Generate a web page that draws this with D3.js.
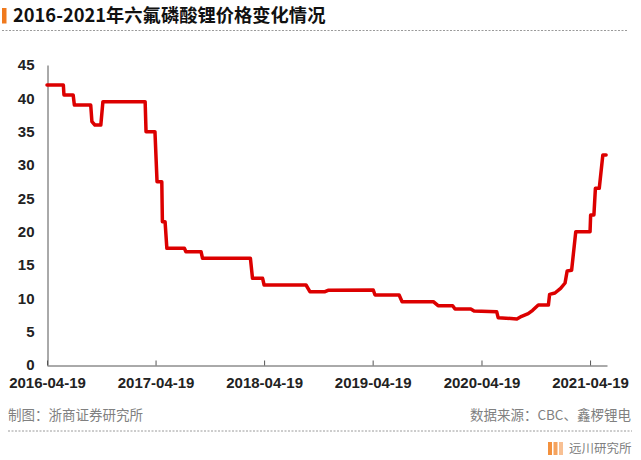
<!DOCTYPE html>
<html>
<head>
<meta charset="utf-8">
<script src="https://cdn.jsdelivr.net/npm/d3@7"></script>
<style>
  html, body { margin: 0; padding: 0; background: #fff; }
  svg { display: block; }
</style>
</head>
<body>
<svg id="chart" width="641" height="460"></svg>
<script>
// ---- Data ----
const dates = [
  "2016-04-19","2016-06-13","2016-06-15","2016-07-16","2016-07-20","2016-09-13","2016-09-17","2016-09-27",
  "2016-10-17","2016-10-24","2017-03-15","2017-03-18","2017-04-17","2017-04-24","2017-05-10","2017-05-12",
  "2017-05-21","2017-05-27","2017-07-25","2017-07-30","2017-09-19","2017-09-24","2018-03-04","2018-03-11",
  "2018-04-14","2018-04-19","2018-09-07","2018-09-20","2018-11-10","2018-11-20","2019-04-21","2019-04-27",
  "2019-07-17","2019-07-27","2019-11-09","2019-11-25","2020-01-13","2020-01-21","2020-03-14","2020-03-25",
  "2020-06-09","2020-06-14","2020-08-16","2020-09-01","2020-09-23","2020-10-08","2020-10-27","2020-11-30",
  "2020-12-04","2020-12-22","2021-01-10","2021-01-25","2021-02-01","2021-02-16","2021-03-02","2021-04-19",
  "2021-04-21","2021-05-02","2021-05-07","2021-05-20","2021-06-01","2021-06-12"
];
const prices = [
  42, 42, 40.5, 40.5, 39, 39, 36.5, 36,
  36, 39.5, 39.5, 35, 35, 27.5, 27.5, 21.5,
  21.5, 17.5, 17.5, 17, 17, 16, 16, 13,
  13, 12, 12, 11, 11, 11.2, 11.25, 10.5,
  10.5, 9.5, 9.5, 8.9, 8.9, 8.4, 8.4, 8.1,
  8.0, 7.1, 6.9, 7.3, 7.7, 8.2, 9.0, 9.0,
  10.6, 10.8, 11.5, 12.3, 14.1, 14.2, 20, 20,
  22.5, 22.5, 26.5, 26.5, 31.5, 31.5
];
const xTickLabels = ["2016-04-19","2017-04-19","2018-04-19","2019-04-19","2020-04-19","2021-04-19"];
const yTickValues = [0, 5, 10, 15, 20, 25, 30, 35, 40, 45];
const xDomain = ["2016-04-19", "2021-06-15"];
const yDomain = [0, 45];
const titleText = "2016-2021年六氟磷酸锂价格变化情况";
const leftNote = "制图：浙商证券研究所";
const rightNote = "数据来源：CBC、鑫椤锂电";
const brandText = "远川研究所";

// ---- Drawing ----
const parse = d3.timeParse("%Y-%m-%d");
const fmt = d3.timeFormat("%Y-%m-%d");
const data = dates.map((d, i) => ({ date: parse(d), value: prices[i] }));

const svg = d3.select("#chart");
const x = d3.scaleTime().domain(xDomain.map(parse)).range([47, 607]);
const y = d3.scaleLinear().domain(yDomain).range([365, 65]);

// Title
svg.append("rect").attr("x", 2).attr("y", 8).attr("width", 4.5).attr("height", 15.5).attr("fill", "#f07a1e");
svg.append("text").attr("x", 13).attr("y", 22)
  .attr("font-family", "'Noto Sans CJK SC', 'Noto Sans', sans-serif")
  .attr("font-weight", 700).attr("font-size", 18.3).attr("fill", "#111")
  .text(titleText);
svg.append("line").attr("x1", 2).attr("x2", 628).attr("y1", 30.5).attr("y2", 30.5)
  .attr("stroke", "#9a9a9a").attr("stroke-width", 1).attr("stroke-dasharray", "2,1.5");

// Axes
const axisFont = "'Liberation Sans', Arial, sans-serif";
const gx = svg.append("g").attr("transform", "translate(0,365.5)")
  .call(d3.axisBottom(x).tickValues(xTickLabels.map(parse)).tickFormat(fmt).tickSizeInner(-5).tickSizeOuter(0));
gx.select(".domain").attr("stroke", "#555");
gx.selectAll(".tick line").attr("stroke", "#555");
gx.selectAll(".tick text").attr("y", 12).attr("dy", "0.71em")
  .attr("font-family", axisFont).attr("font-weight", "bold").attr("font-size", 15).attr("fill", "#222");

const gy = svg.append("g").attr("transform", "translate(47.5,0)")
  .call(d3.axisLeft(y).tickValues(yTickValues).tickSize(0).tickPadding(13));
gy.select(".domain").attr("stroke", "#555");
gy.selectAll(".tick text")
  .attr("font-family", axisFont).attr("font-weight", "bold").attr("font-size", 15).attr("fill", "#222");

// Line
const line = d3.line().x(d => x(d.date)).y(d => y(d.value)).curve(d3.curveLinear);
svg.append("path").datum(data).attr("d", line)
  .attr("fill", "none").attr("stroke", "#dc0000").attr("stroke-width", 3.5)
  .attr("stroke-linejoin", "round").attr("stroke-linecap", "round");

// Footer
const noteFont = "'Noto Sans CJK SC', 'Noto Sans', sans-serif";
svg.append("text").attr("x", 8).attr("y", 420)
  .attr("font-family", noteFont).attr("font-size", 13.5).attr("fill", "#808080").text(leftNote);
svg.append("text").attr("x", 631).attr("y", 420).attr("text-anchor", "end")
  .attr("font-family", noteFont).attr("font-size", 13.5).attr("fill", "#808080").text(rightNote);
svg.append("line").attr("x1", 8).attr("x2", 632).attr("y1", 431).attr("y2", 431)
  .attr("stroke", "#9a9a9a").attr("stroke-width", 1).attr("stroke-dasharray", "2,1.5");

const barColors = ["#f3913e", "#f5a35e", "#f8c093"];
svg.selectAll("rect.brand").data(barColors).enter().append("rect")
  .attr("class", "brand")
  .attr("x", (d, i) => 548 + i * 5.5).attr("y", 442).attr("width", 4).attr("height", 13)
  .attr("fill", d => d);
svg.append("text").attr("x", 569).attr("y", 453)
  .attr("font-family", noteFont).attr("font-size", 12.5).attr("fill", "#808080").text(brandText);
</script>
</body>
</html>
